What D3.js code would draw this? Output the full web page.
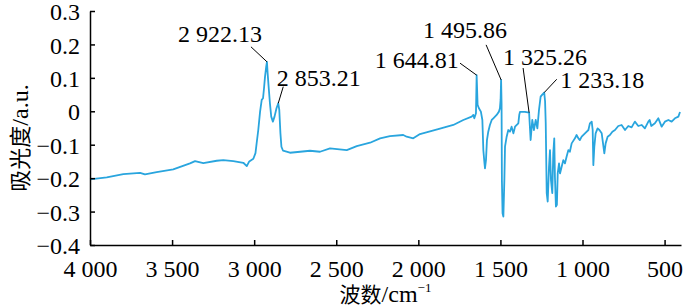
<!DOCTYPE html>
<html><head><meta charset="utf-8">
<script src="https://cdn.jsdelivr.net/npm/d3@7"></script>
<style>body{margin:0;background:#fff;}svg{display:block;}</style>
</head><body>
<svg id="chart" width="700" height="307"></svg>
<script>
// ---- data ----
const wavenumbers = [4000,3898,3797,3695,3665,3594,3493,3391,3360,3310,3228,3188,3127,3066,3045,3030,3005,2992,2985,2975,2964,2954,2946,2940,2934,2927,2922.13,2918,2912,2904,2896,2886,2876,2864,2853.21,2847,2840,2834,2824,2782,2720,2660,2599,2538,2480,2436,2375,2294,2233,2173,2092,2071,2031,1990,1868,1787,1726,1675,1665,1659,1649,1644.81,1639,1631,1619,1610,1604,1598,1594,1588,1582,1574,1564,1553,1543,1523,1509,1503,1499,1495.86,1493,1491,1487,1482,1476,1472,1462,1452,1442,1432,1421,1411,1391,1385,1381,1351,1325.26,1316,1306,1296,1285,1275,1265,1255,1245,1233.18,1228,1224,1218,1212,1204,1198,1192,1184,1178,1172,1168,1162,1156,1151,1143,1137,1127,1117,1107,1097,1086,1077,1066,1046,1036,1025,1016,1005,985,964,955,944,938,934,928,920,908,897,883,867,859,847,833,818,802,782,762,741,721,701,681,660,640,620,599,591,581,559,538,518,498,477,457,437,416,406];
const absorbance = [-0.204,-0.198,-0.188,-0.184,-0.189,-0.182,-0.174,-0.156,-0.149,-0.155,-0.148,-0.146,-0.149,-0.154,-0.164,-0.150,-0.142,-0.125,-0.096,-0.056,-0.001,0.034,0.039,0.069,0.103,0.132,0.148,0.114,0.074,0.024,-0.016,-0.031,-0.016,0.009,0.024,0.004,-0.066,-0.106,-0.118,-0.124,-0.121,-0.118,-0.121,-0.111,-0.114,-0.116,-0.104,-0.094,-0.081,-0.074,-0.071,-0.076,-0.081,-0.068,-0.052,-0.041,-0.026,-0.016,-0.011,-0.021,-0.006,0.108,0.019,0.009,-0.001,-0.026,-0.116,-0.151,-0.171,-0.146,-0.086,-0.061,-0.041,-0.026,-0.021,-0.011,-0.001,0.009,0.034,0.094,0.024,-0.206,-0.305,-0.315,-0.206,-0.106,-0.076,-0.056,-0.061,-0.046,-0.066,-0.046,-0.036,-0.010,-0.002,-0.002,-0.004,-0.086,-0.026,-0.056,-0.026,-0.051,0.004,0.044,0.050,0.056,0.030,-0.036,-0.245,-0.270,-0.166,-0.116,-0.206,-0.245,-0.126,-0.081,-0.196,-0.285,-0.280,-0.186,-0.156,-0.186,-0.166,-0.146,-0.156,-0.136,-0.116,-0.121,-0.096,-0.081,-0.071,-0.081,-0.086,-0.076,-0.066,-0.056,-0.036,-0.031,-0.056,-0.161,-0.106,-0.066,-0.051,-0.056,-0.066,-0.126,-0.096,-0.076,-0.071,-0.061,-0.056,-0.044,-0.041,-0.056,-0.044,-0.048,-0.031,-0.044,-0.041,-0.051,-0.031,-0.026,-0.044,-0.036,-0.021,-0.046,-0.031,-0.026,-0.031,-0.021,-0.016,-0.002];
const peakWavenumbers = [2922.13, 2853.21, 1644.81, 1495.86, 1325.26, 1233.18];
const peakLabels = ["2 922.13", "2 853.21", "1 644.81", "1 495.86", "1 325.26", "1 233.18"];
const xTicks = [4000, 3500, 3000, 2500, 2000, 1500, 1000, 500];
const xTickLabels = ["4 000", "3 500", "3 000", "2 500", "2 000", "1 500", "1 000", "500"];
const yTicks = [0.3, 0.2, 0.1, 0, -0.1, -0.2, -0.3, -0.4];
const yTickLabels = ["0.3", "0.2", "0.1", "0", "\u22120.1", "\u22120.2", "\u22120.3", "\u22120.4"];

// ---- layout ----
const L = {left: 90, right: 681, top: 11, bottom: 245};
const FONT = "'Liberation Serif','Times New Roman','Noto Sans CJK SC',serif";
const LINE = "#29a5de";
// label layout offsets relative to the peak point (px): leader end (lx,ly), text anchor (tx,ty)
const annLayout = [
  {lx: -16, ly: -15, tx: -5, ty: -20, anchor: "end"},
  {lx: 5, ly: -16.6, tx: -1.5, ty: -17.3, anchor: "start"},
  {lx: -16.6, ly: -12, tx: -18, ty: -7, anchor: "end"},
  {lx: -15, ly: -35, tx: 6, ty: -41.6, anchor: "end"},
  {lx: -6, ly: -44.6, tx: -26, ty: -47.6, anchor: "start"},
  {lx: 12.5, ly: -13.3, tx: 16, ty: -4.3, anchor: "start"}
];

const svg = d3.select("#chart");
const x = d3.scaleLinear().domain([4000, 400]).range([L.left, L.right]);
const y = d3.scaleLinear().domain([-0.4, 0.3]).range([L.bottom, L.top]);

const data = wavenumbers.map((w, i) => ({w, a: absorbance[i]}));

svg.append("path")
  .datum(data)
  .attr("fill", "none")
  .attr("stroke", LINE)
  .attr("stroke-width", 1.8)
  .attr("stroke-linejoin", "round")
  .attr("d", d3.line().x(d => x(d.w)).y(d => y(d.a)));

// axes
const yAxis = d3.axisLeft(y).tickValues(yTicks).tickSizeInner(-5).tickSizeOuter(0).tickPadding(10)
  .tickFormat((d, i) => yTickLabels[i]);
const xAxis = d3.axisBottom(x).tickValues(xTicks).tickSizeInner(-5).tickSizeOuter(0).tickPadding(15)
  .tickFormat((d, i) => xTickLabels[i]);

const gy = svg.append("g").attr("transform", `translate(${L.left},0)`).call(yAxis);
const gx = svg.append("g").attr("transform", `translate(0,${L.bottom})`).call(xAxis);
[gx, gy].forEach(g => {
  g.selectAll("path,line").attr("stroke", "#000").attr("stroke-width", 1.5);
  g.selectAll("text").attr("font-family", FONT).attr("font-size", 24).attr("fill", "#000");
});
gy.selectAll("text").attr("dy", "0.36em");
gx.selectAll("text").attr("dy", "0.71em");

// annotations
peakWavenumbers.forEach((pw, i) => {
  const idx = wavenumbers.indexOf(pw);
  const px = x(pw), py = y(absorbance[idx]);
  const lay = annLayout[i];
  svg.append("line")
    .attr("x1", px).attr("y1", py)
    .attr("x2", px + lay.lx).attr("y2", py + lay.ly)
    .attr("stroke", "#000").attr("stroke-width", 1);
  svg.append("text")
    .attr("x", px + lay.tx).attr("y", py + lay.ty)
    .attr("text-anchor", lay.anchor)
    .attr("font-family", FONT).attr("font-size", 24).attr("fill", "#000")
    .text(peakLabels[i]);
});

// axis titles
const xt = svg.append("text")
  .attr("x", (L.left + L.right) / 2).attr("y", 302)
  .attr("text-anchor", "middle")
  .attr("font-family", FONT).attr("font-size", 24).attr("fill", "#000");
xt.append("tspan").attr("font-size", 21).text("波数");
xt.append("tspan").text("/cm");
xt.append("tspan").attr("font-size", 13).attr("dy", -10).text("\u22121");

const yt = svg.append("text")
  .attr("transform", `translate(28,138) rotate(-90)`)
  .attr("text-anchor", "middle")
  .attr("font-family", FONT).attr("font-size", 24).attr("fill", "#000");
yt.append("tspan").attr("font-size", 22).text("吸光度");
yt.append("tspan").text("/a.u.");
</script>
</body></html>
